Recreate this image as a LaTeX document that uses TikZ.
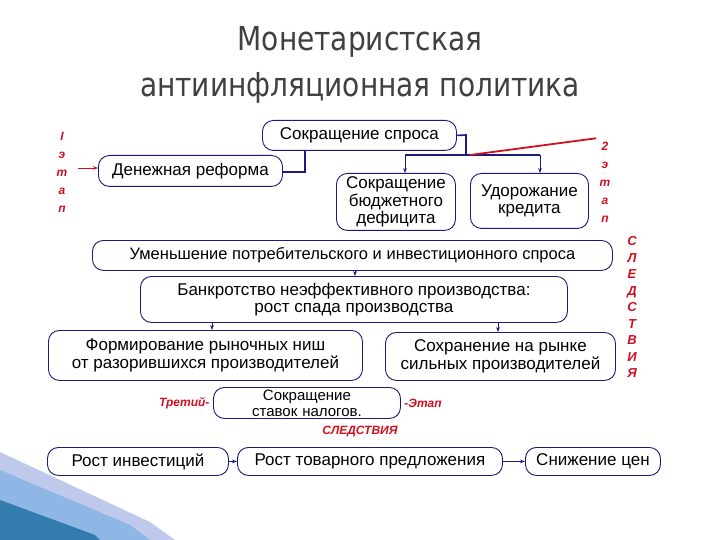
\documentclass[tikz,border=0pt]{standalone}
\usepackage{fontspec}
\setmainfont{DejaVu Sans}
\newfontfamily\boxfont{Liberation Sans}
\usetikzlibrary{arrows.meta}
\definecolor{navy}{HTML}{1A1A80}
\definecolor{redd}{HTML}{D01020}
\begin{document}
\begin{tikzpicture}[x=1pt,y=-1pt,
 bx/.style={draw=navy,line width=0.9pt,rounded corners=11pt,inner sep=1pt,align=center,font=\boxfont\fontsize{17}{17.5}\selectfont,anchor=north west},
 con/.style={draw=navy,line width=1.6pt},
 arr/.style={draw=navy,line width=0.9pt,-{Stealth[length=5pt]}},
 red/.style={text=redd,font=\boxfont\bfseries\itshape\fontsize{12}{18}\selectfont,align=center}]
\useasboundingbox (0,0) rectangle (720,540);
\fill[white] (0,0) rectangle (720,540);
% decoration
\fill[cyan!40!blue!25] (0,452) -- (150,522) -- (175,540) -- (0,540) -- cycle;
\fill[cyan!60!blue!45] (0,470) -- (130,525) -- (150,540) -- (0,540) -- cycle;
\fill[blue!40!cyan!60!black!80] (0,500) -- (95,535) -- (100,540) -- (0,540) -- cycle;
\node[text=black!75,font=\fontsize{33}{36}\selectfont\addfontfeatures{FakeStretch=0.85}] (t1) at (360,42) {Монетаристская};
\node[text=black!75,font=\fontsize{33}{36}\selectfont\addfontfeatures{FakeStretch=0.85}] (t2) at (360,88) {антиинфляционная политика};
\node[bx,minimum width=194pt,minimum height=30pt] (ss) at (262,120) {Сокращение спроса};
\node[bx,minimum width=184pt,minimum height=31pt] (dr) at (98,155) {Денежная реформа};
\node[bx,minimum width=119pt,minimum height=57pt] (sb) at (336,173) {Сокращение\\бюджетного\\дефицита};
\node[bx,minimum width=118pt,minimum height=55pt] (uk) at (470,173) {Удорожание\\кредита};
\node[bx,minimum width=520pt,minimum height=30pt,font=\boxfont\fontsize{16.5}{17}\selectfont] (um) at (92,240) {Уменьшение потребительского и инвестиционного спроса};
\node[bx,minimum width=427pt,minimum height=46pt] (bn) at (140,276) {Банкротство неэффективного производства:\\рост спада производства};
\node[bx,minimum width=314pt,minimum height=50pt] (fr) at (48,330) {Формирование рыночных ниш\\от разорившихся производителей};
\node[bx,minimum width=230pt,minimum height=48pt] (sr) at (385,332) {Сохранение на рынке\\сильных производителей};
\node[bx,minimum width=187pt,minimum height=31pt,text width=183pt,font=\boxfont\fontsize{15}{16}\selectfont] (sn) at (213,387) {Сокращение ставок налогов.};
\node[bx,minimum width=181pt,minimum height=28pt] (ri) at (47,447) {Рост инвестиций};
\node[bx,minimum width=265pt,minimum height=28pt] (rt) at (237,447) {Рост товарного предложения};
\node[bx,minimum width=135pt,minimum height=28pt] (sc) at (525,447) {Снижение цен};
% connectors
\draw[con] (ss.south -| 305,0) -- (305,172) -- (dr.east |- 0,172);
\draw[con] (ss.east) -- (466,135) -- (466,155);
\draw[navy,line width=1.2pt] (405,155) -- (540,155);
\coordinate (j1) at (405,155); \coordinate (j2) at (540,155);
\draw[arr] (j1) -- (sb.north -| j1);
\draw[arr] (j2) -- (uk.north -| j2);
\draw[arr] (um.south -| 355,0) -- (bn.north -| 355,0);
\draw[arr] (bn.south -| 212,0) -- (fr.north -| 212,0);
\draw[arr] (bn.south -| 498,0) -- (sr.north -| 498,0);
\draw[arr,line width=1.2pt] (ri) -- (rt);
\draw[arr,line width=1.8pt] (rt) -- (sc);
% red labels
\node[red] (l1) at (62,172) {I\\э\\т\\а\\п};
\coordinate (ra) at (78,168);
\draw[redd,line width=0.9pt,-{Stealth[length=5pt]}] (ra) -- (dr.west |- ra);
\node[red] (l2) at (605,182) {2\\э\\т\\а\\п};
\coordinate (rb) at (470,155);
\draw[redd,line width=1.8pt] (rb) -- (l2.north west);
\node[red,font=\boxfont\bfseries\itshape\fontsize{13}{16.5}\selectfont] (sl) at (632,307) {С\\Л\\Е\\Д\\С\\Т\\В\\И\\Я};
\node[red,anchor=east] (tr) at (sn.west) {Третий-};
\node[red,anchor=west] (et) at (sn.east) {-Этап};
\node[red,font=\boxfont\bfseries\itshape\fontsize{12}{14}\selectfont] (sd) at (360,432) {СЛЕДСТВИЯ};
\end{tikzpicture}
\end{document}
